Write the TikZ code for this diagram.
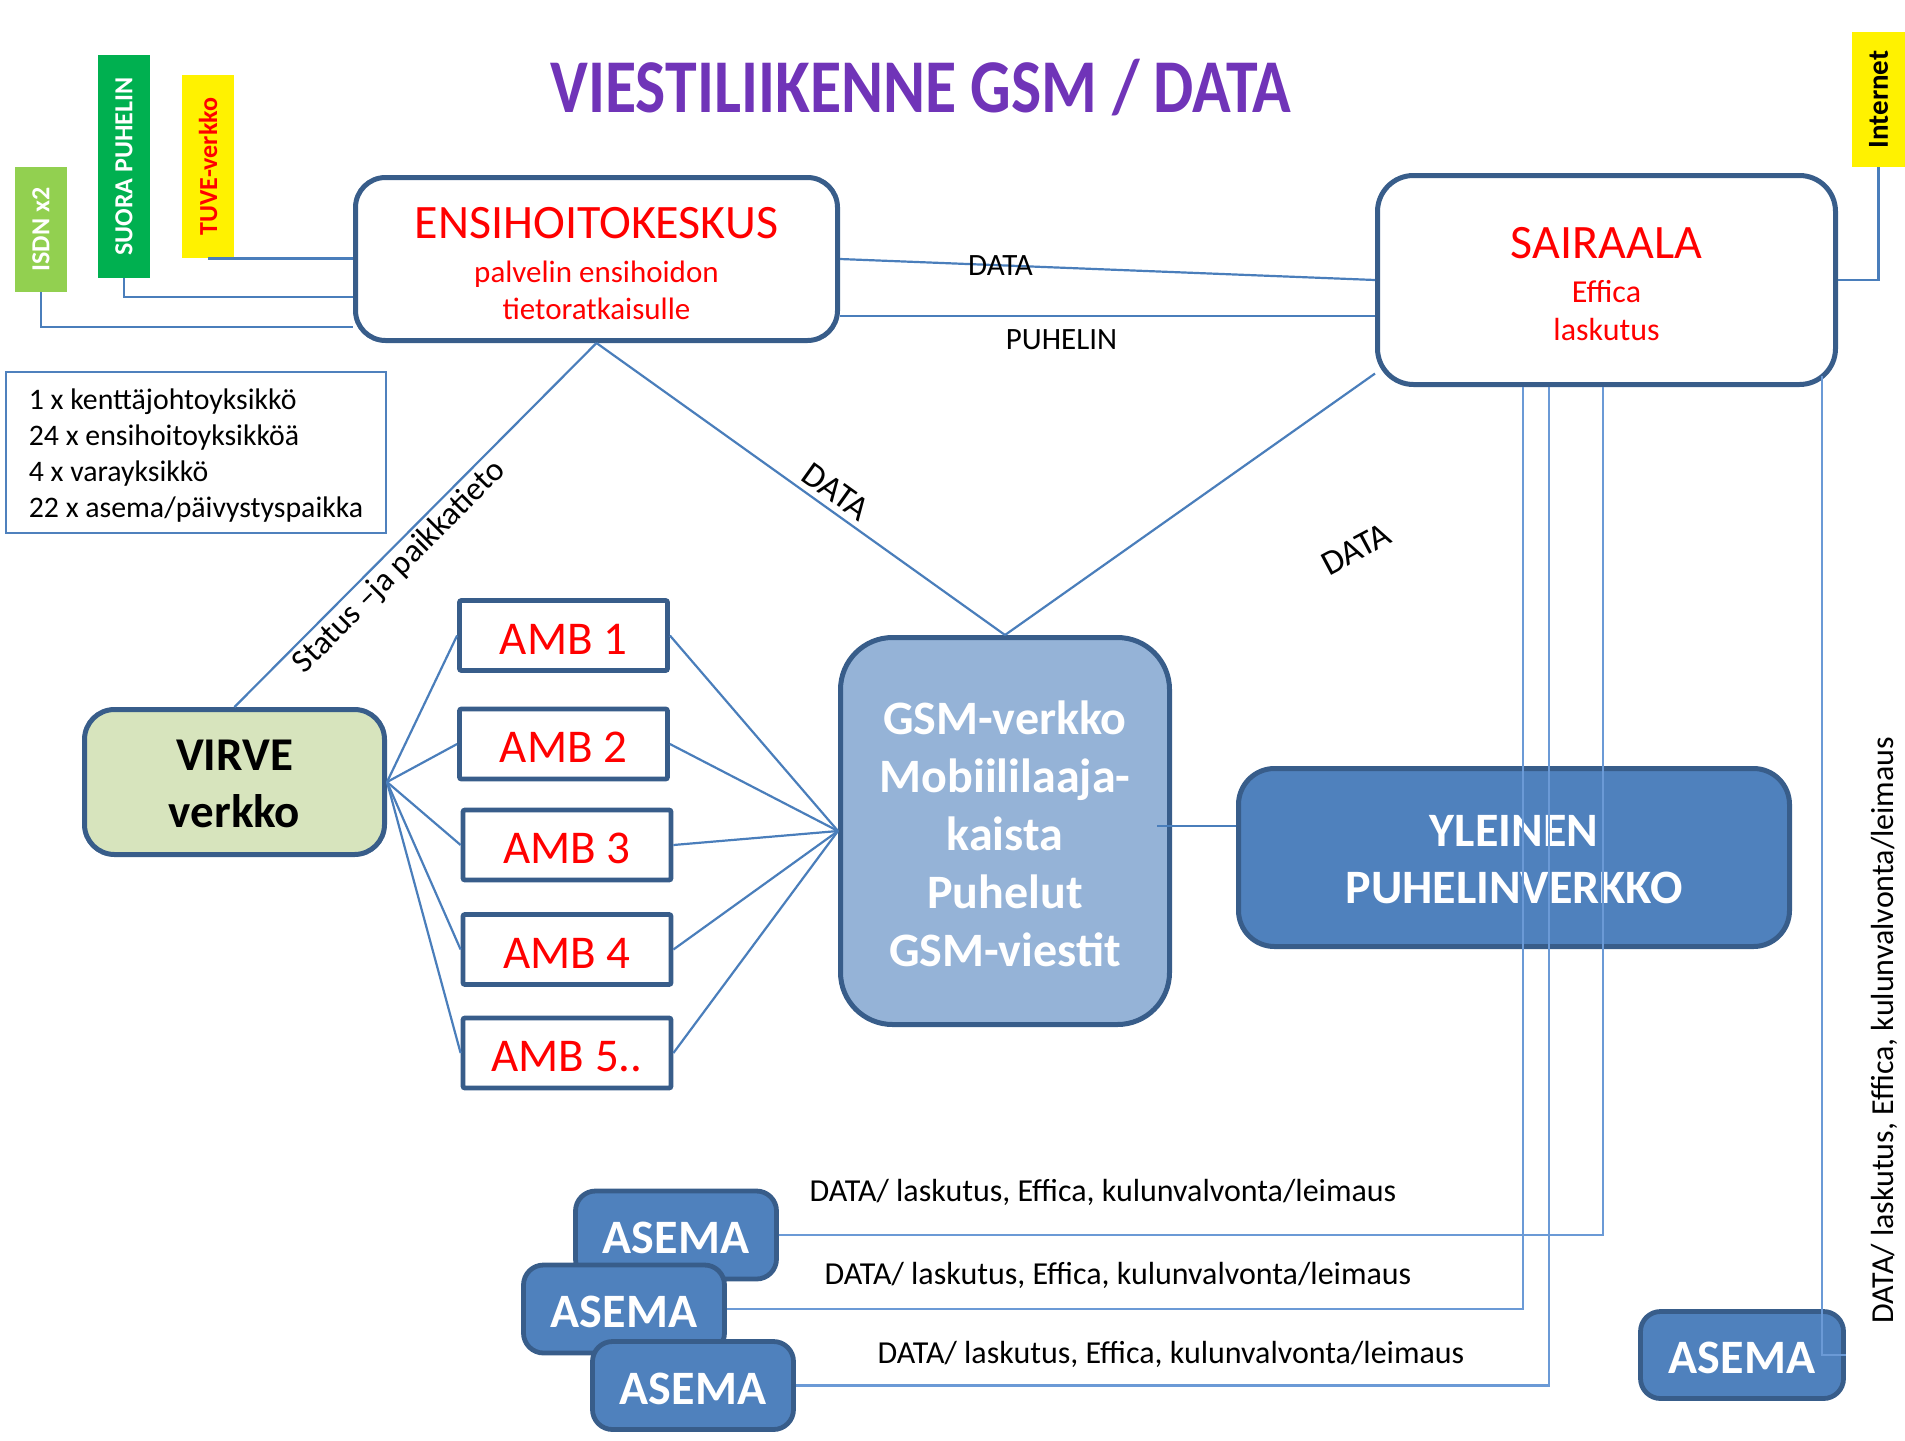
\documentclass[tikz,border=0pt]{standalone}
\usepackage{fontspec}
\setmainfont{Carlito}
\usetikzlibrary{calc}
\definecolor{bord}{HTML}{385D8A}
\definecolor{lnc}{HTML}{4A7EBB}
\definecolor{lnv}{HTML}{6B9AD6}
\definecolor{blfill}{HTML}{4F81BD}
\definecolor{gsmfill}{HTML}{95B3D7}
\definecolor{virfill}{HTML}{D7E4BD}
\definecolor{isdncol}{HTML}{92D050}
\definecolor{suoracol}{HTML}{00B050}
\definecolor{ttl}{HTML}{7034B8}
\newcommand{\fsz}[2]{\fontsize{#1}{#2}\selectfont}
\newcommand{\st}[1]{\rule{0pt}{#1}}
\begin{document}
\begin{tikzpicture}[x=0.5pt,y=-0.5pt,
 conn/.style={draw=lnc,line width=1.1pt},
 vconn/.style={draw=lnv,line width=1.1pt},
 rbox/.style={draw=bord,line width=2.5pt,align=center,inner sep=0pt},
 ambbox/.style={draw=bord,line width=2.4pt,fill=white,rounded corners=1pt,minimum width=104pt,minimum height=35pt,inner sep=0pt,font=\fsz{23.5pt}{28pt},text=red},
 asbox/.style={draw=bord,line width=2.4pt,fill=blfill,rounded corners=10pt,minimum width=100.5pt,minimum height=44pt,inner sep=0pt,font=\bfseries\fsz{24pt}{28pt},text=white},
 tag/.style={minimum width=26pt,inner sep=0pt,font=\bfseries\fsz{13pt}{15pt}},
 lbl/.style={inner sep=0pt,font=\fsz{16pt}{18pt}}
]
\useasboundingbox (0,0) rectangle (1905,1440);

% title
\node[font=\bfseries\fsz{38pt}{40pt},text=ttl,inner sep=0pt] (title) at (921,88) {\scalebox{0.84}[1]{VIESTILIIKENNE GSM / DATA}};

% tags
\node[tag,fill=isdncol,minimum height=62.5pt,text=white] (isdn) at (41,229.5) {\rotatebox{90}{ISDN x2}};
\node[tag,fill=suoracol,minimum height=111.5pt,text=white] (suora) at (124,166.5) {\rotatebox{90}{SUORA PUHELIN}};
\node[tag,fill=yellow,minimum height=91.5pt,text=red] (tuve) at (208,166.5) {\rotatebox{90}{TUVE-verkko}};
\node[tag,fill=yellow,minimum width=26.5pt,minimum height=67.5pt,font=\bfseries\fsz{14.5pt}{16pt}] (inet) at (1878.5,99.5) {\rotatebox{90}{Internet}};

% main boxes
\node[rbox,fill=white,rounded corners=15pt,minimum width=241pt,minimum height=81.5pt,font=\fsz{15.5pt}{18.5pt},text=red] (ens) at (596.5,259)
 {{\fsz{24pt}{24pt}\st{19.7pt}ENSIHOITOKESKUS}\\[3.5pt]palvelin ensihoidon\\tietoratkaisulle};
\node[rbox,fill=white,rounded corners=18pt,minimum width=229pt,minimum height=104.5pt,font=\fsz{16pt}{19pt},text=red] (sair) at (1606.5,280)
 {{\fsz{24pt}{24pt}\st{19.7pt}SAIRAALA}\\[3pt]Effica\\laskutus};

\node[draw=blfill,line width=1pt,minimum width=190pt,minimum height=80.5pt,align=left,font=\fsz{14.9pt}{18pt},inner sep=0pt] (info) at (196,452.5)
 {\st{13.5pt}1 x kenttäjohtoyksikkö\\24 x ensihoitoyksikköä\\4 x varayksikkö\\22 x asema/päivystyspaikka};

\node[rbox,fill=virfill,rounded corners=15pt,minimum width=150pt,minimum height=72.5pt,font=\bfseries\fsz{23.5pt}{28.5pt}] (virve) at (234.5,782) {\st{17.6pt}VIRVE\\verkko};

\node[ambbox] (amb1) at (563.5,635.5) {\st{18.7pt}AMB 1};
\node[ambbox] (amb2) at (563.5,744) {\st{18.7pt}AMB 2};
\node[ambbox] (amb3) at (567,845) {\st{18.7pt}AMB 3};
\node[ambbox] (amb4) at (567,949.5) {\st{18.7pt}AMB 4};
\node[ambbox] (amb5) at (567,1053) {\st{18.7pt}AMB 5..};

\node[rbox,fill=gsmfill,rounded corners=26pt,minimum width=164.5pt,minimum height=193.5pt,font=\bfseries\fsz{24pt}{29pt},text=white] (gsm) at (1005,831)
 {\st{19.5pt}GSM-verkko\\Mobiililaaja-\\kaista\\Puhelut\\GSM-viestit};

\node[rbox,fill=blfill,rounded corners=18pt,minimum width=275.5pt,minimum height=89pt,font=\bfseries\fsz{24pt}{28.5pt},text=white] (yl) at (1514,857.5)
 {\st{18pt}YLEINEN\\PUHELINVERKKO};

\node[asbox] (asA) at (676,1235) {\st{19pt}ASEMA};
\node[asbox] (asB) at (624,1309) {\st{19pt}ASEMA};
\node[asbox] (asC) at (693,1385.5) {\st{19pt}ASEMA};
\node[asbox,minimum width=101.5pt,minimum height=43.5pt] (asR) at (1742,1355) {\st{18.5pt}ASEMA};

% connectors: tags
\draw[conn] (tuve.south) -- (tuve.south -| ens.west);
\draw[conn] (suora.south) |- ($(ens.west)+(0,38)$);
\draw[conn] (isdn.south) |- ($(ens.west)+(0,68)$);
\draw[conn] (inet.south) |- (sair.east);

% ens - sair
\draw[conn] (ens.east) -- node[pos=0.3,inner sep=0pt,font=\fsz{15.5pt}{16pt}] (dlab0) {DATA} (sair.west);
\coordinate (pl) at ($(ens.east)+(0,57)$);
\draw[conn] (pl) -- node[pos=0.414,yshift=-12pt,inner sep=0pt,font=\fsz{15.5pt}{16pt}] (plab) {PUHELIN} (pl -| sair.west);

% diagonals
\draw[conn] (virve.north) -- node[sloped,below,pos=0.42,inner sep=1.5pt,font=\fsz{16.5pt}{18pt}] (stlab) {Status –ja paikkatieto} (ens.south);
\draw[conn] (ens.south) -- node[sloped,above,pos=0.56,inner sep=3pt,font=\fsz{17.5pt}{18pt}] (dlab1) {DATA} (gsm.north);
\draw[conn] (gsm.north) -- (sair.202.5);
\node[rotate=28,inner sep=0pt,font=\fsz{17.5pt}{18pt}] (dlab2) at (1356,549) {DATA};

% virve - amb - gsm
\foreach \a in {amb1,amb2,amb3,amb4,amb5}{
  \draw[conn] (virve.east) -- (\a.west);
  \draw[conn] (\a.east) -- (gsm.west);
}
\coordinate (gy) at ($(gsm.east)+(-15,-5)$);
\draw[conn] (gy) -- (gy -| yl.west);

% sairaala - asema lines
\draw[vconn] ($(sair.south)+(-3.5,0)$) |- (asA.east);
\draw[vconn] ($(sair.south)+(-83.5,0)$) |- (asB.east);
\draw[vconn] ($(sair.south)+(-57.5,0)$) |- (asC.east);
\draw[vconn] ($(sair.south)+(215.5,-11.5)$) |- (asR.east);

% bottom labels
\node[lbl] (l1) at (1103,1192) {DATA/ laskutus, Effica, kulunvalvonta/leimaus};
\node[lbl] (l2) at (1118,1275) {DATA/ laskutus, Effica, kulunvalvonta/leimaus};
\node[lbl] (l3) at (1171,1354) {DATA/ laskutus, Effica, kulunvalvonta/leimaus};
\node[lbl] (l4) at (1884,1030) {\rotatebox{90}{DATA/ laskutus, Effica, kulunvalvonta/leimaus}};
\end{tikzpicture}
\end{document}
